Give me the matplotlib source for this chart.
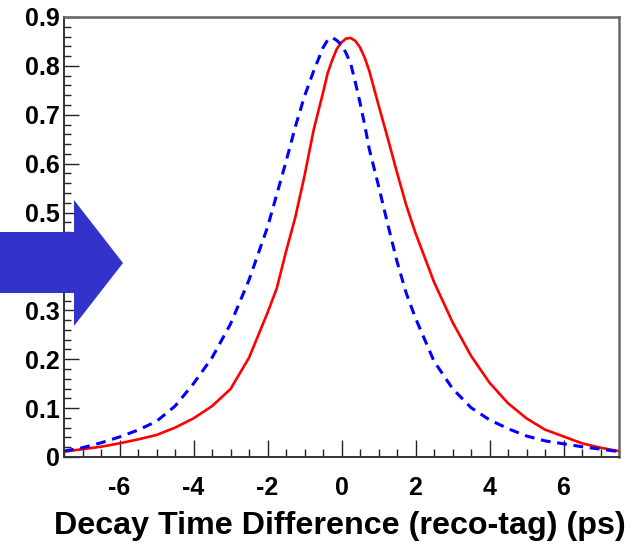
import matplotlib
matplotlib.use("Agg")
import matplotlib.pyplot as plt
from matplotlib.patches import Polygon
from matplotlib.ticker import MultipleLocator

# values
dt = [-7.5, -7.0, -6.5, -6.0, -5.5, -5.0, -4.5, -4.0, -3.5, -3.0, -2.5, -2.0,
      -1.75, -1.5, -1.25, -1.0, -0.75, -0.5, -0.375, -0.25, -0.125, 0.0, 0.125,
      0.25, 0.375, 0.5, 0.625, 0.75, 1.0, 1.25, 1.5, 1.75, 2.0, 2.5, 3.0, 3.5,
      4.0, 4.5, 5.0, 5.5, 6.0, 6.5, 7.0, 7.5]

red_vals = [0.011, 0.016, 0.021, 0.028, 0.036, 0.045, 0.060, 0.079, 0.104, 0.139,
            0.203, 0.295, 0.345, 0.420, 0.490, 0.575, 0.670, 0.745, 0.785, 0.812,
            0.835, 0.848, 0.856, 0.857, 0.851, 0.838, 0.817, 0.790, 0.720, 0.652,
            0.582, 0.515, 0.458, 0.358, 0.276, 0.207, 0.152, 0.110, 0.079, 0.056,
            0.042, 0.028, 0.019, 0.012]

blue_vals = [0.012, 0.019, 0.029, 0.041, 0.055, 0.073, 0.104, 0.150, 0.203, 0.272,
             0.362, 0.470, 0.537, 0.604, 0.675, 0.738, 0.790, 0.837, 0.853, 0.858,
             0.852, 0.843, 0.826, 0.804, 0.766, 0.725, 0.680, 0.630, 0.555, 0.476,
             0.400, 0.335, 0.284, 0.196, 0.140, 0.101, 0.076, 0.058, 0.043, 0.033,
             0.027, 0.021, 0.016, 0.011]

x_ticks = [-6, -4, -2, 0, 2, 4, 6]
y_ticks = [0, 0.1, 0.2, 0.3, 0.4, 0.5, 0.6, 0.7, 0.8, 0.9]
y_labels = ["0", "0.1", "0.2", "0.3", "0.4", "0.5", "0.6", "0.7", "0.8", "0.9"]
x_title = "Decay Time Difference (reco-tag) (ps)"

W, H = 639, 544
fonts = ["Liberation Sans", "DejaVu Sans"]

fig = plt.figure(figsize=(W / 100, H / 100), dpi=100)
ax = fig.add_axes([64 / W, (H - 457) / H, (619 - 64) / W, (457 - 17) / H])

ax.plot(dt, red_vals, color="#ff0000", lw=1.9, solid_joinstyle="round")
ax.plot(dt, blue_vals, color="#0000ff", lw=2.2, dashes=(3.2, 2.2))

ax.set_xlim(-7.5, 7.5)
ax.set_ylim(0, 0.9)

ax.set_xticks(x_ticks)
ax.set_xticklabels([str(v) for v in x_ticks])
ax.set_yticks(y_ticks)
ax.set_yticklabels(y_labels)
ax.xaxis.set_minor_locator(MultipleLocator(0.5))
ax.yaxis.set_minor_locator(MultipleLocator(0.02))

for lab in ax.get_xticklabels() + ax.get_yticklabels():
    lab.set_family(fonts)
    lab.set_fontweight("bold")
    lab.set_fontsize(18)

ax.tick_params(axis="x", which="major", direction="in", length=12, width=1.0,
               pad=14, color="#222222")
ax.tick_params(axis="x", which="minor", direction="in", length=6, width=1.0,
               color="#222222")
ax.tick_params(axis="y", which="major", direction="in", length=11, width=1.0,
               pad=3, color="#222222")
ax.tick_params(axis="y", which="minor", direction="in", length=5, width=1.0,
               color="#222222")

for side in ["left", "bottom"]:
    ax.spines[side].set_color("#333333")
    ax.spines[side].set_linewidth(1.4)
for side in ["top", "right"]:
    ax.spines[side].set_color("#666666")
    ax.spines[side].set_linewidth(1.8)

fig.text(626 / W, (H - 534) / H, x_title, ha="right", va="baseline",
         family=fonts, fontweight="bold", fontsize=23.2)

# big blue arrow over the y labels
arrow_px = [(0, 232), (74, 232), (74, 200), (123, 263), (74, 326), (74, 293), (0, 293)]
arrow = Polygon([(x / W, 1 - y / H) for x, y in arrow_px], closed=True,
                transform=fig.transFigure, facecolor="#3333cc", edgecolor="none",
                zorder=5)
fig.add_artist(arrow)

fig.savefig("out.png", dpi=100)
